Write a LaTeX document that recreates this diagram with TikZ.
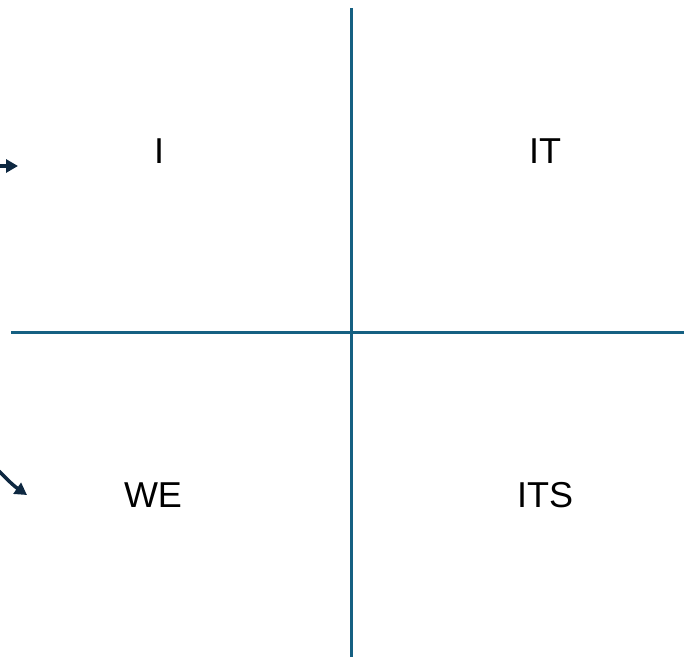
\documentclass[tikz,border=0pt]{standalone}
\usepackage{fontspec}
\setmainfont{Liberation Sans}
\usetikzlibrary{arrows.meta}
\definecolor{quadBlue}{HTML}{156082}
\definecolor{quadInk}{HTML}{0E2841}
\tikzset{
  every picture/.style={font=\fontsize{36}{40}\selectfont},
  quad axis/.style={draw=quadBlue, line width=3pt},
  quad label/.style={anchor=center, inner sep=0pt},
  quad arrow/.style={-{Triangle[length=12pt,width=13pt]},
    draw=quadInk, line width=3.5pt}
}
\begin{document}
\begin{tikzpicture}[x=1pt,y=-1pt]
  \useasboundingbox (0,0) rectangle (684,659);
  \coordinate (top) at (351,8);
  \coordinate (bottom) at (351,657);
  \coordinate (left) at (11,332);
  \coordinate (right) at (684,332);
  \draw[quad axis] (top) -- (bottom);
  \draw[quad axis] (left) -- (right);
  \node[quad label] (i) at (159,151) {I};
  \node[quad label] (it) at (545,151) {IT};
  \node[quad label] (we) at (153,495) {WE};
  \node[quad label] (its) at (545,495) {ITS};
  \coordinate (a1) at (-1,166);
  \coordinate (a1end) at (18,166);
  \coordinate (a2) at (-1,471);
  \coordinate (a2end) at (27,495);
  \draw[quad arrow] (a1) -- (a1end);
  \draw[quad arrow] (a2) to[bend right=6] (a2end);
\end{tikzpicture}
\end{document}
